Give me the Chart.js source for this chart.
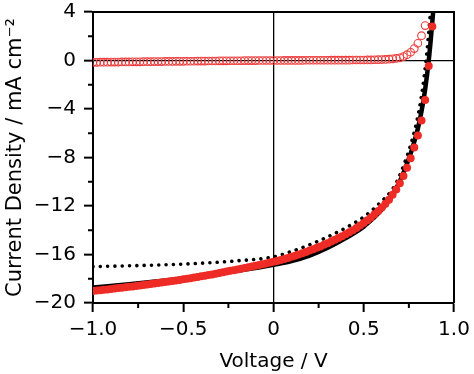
<!DOCTYPE html>
<html>
<head>
<meta charset="utf-8">
<script src="https://cdn.jsdelivr.net/npm/chart.js@4.4.0/dist/chart.umd.min.js"></script>
<style>
  html, body { margin: 0; padding: 0; background: #fff; }
  #wrap { width: 474px; height: 374px; }
</style>
</head>
<body>
<div id="wrap"><canvas id="jvChart"></canvas></div>
<script>
// voltage sweep shared by the two marker series (V)
const sweepV = [
  -1.00, -0.98, -0.96, -0.94, -0.92, -0.90, -0.88, -0.86, -0.84, -0.82,
  -0.80, -0.78, -0.76, -0.74, -0.72, -0.70, -0.68, -0.66, -0.64, -0.62,
  -0.60, -0.58, -0.56, -0.54, -0.52, -0.50, -0.48, -0.46, -0.44, -0.42,
  -0.40, -0.38, -0.36, -0.34, -0.32, -0.30, -0.28, -0.26, -0.24, -0.22,
  -0.20, -0.18, -0.16, -0.14, -0.12, -0.10, -0.08, -0.06, -0.04, -0.02,
  0.00, 0.02, 0.04, 0.06, 0.08, 0.10, 0.12, 0.14, 0.16, 0.18,
  0.20, 0.22, 0.24, 0.26, 0.28, 0.30, 0.32, 0.34, 0.36, 0.38,
  0.40, 0.42, 0.44, 0.46, 0.48, 0.50, 0.52, 0.54, 0.56, 0.58,
  0.60, 0.62, 0.64, 0.66, 0.68, 0.70, 0.72, 0.74, 0.76, 0.78,
  0.80, 0.82, 0.84, 0.86, 0.88
];

// red filled circles, under light (mA cm-2)
const lightJ = [
  -19.00, -18.97, -18.94, -18.91, -18.88, -18.84, -18.81, -18.77, -18.74, -18.70,
  -18.67, -18.63, -18.59, -18.55, -18.51, -18.47, -18.43, -18.39, -18.35, -18.31,
  -18.27, -18.23, -18.19, -18.14, -18.10, -18.05, -18.00, -17.95, -17.90, -17.85,
  -17.80, -17.75, -17.69, -17.64, -17.58, -17.53, -17.47, -17.41, -17.35, -17.29,
  -17.23, -17.17, -17.11, -17.05, -16.99, -16.93, -16.87, -16.80, -16.74, -16.67,
  -16.60, -16.53, -16.45, -16.37, -16.28, -16.19, -16.10, -16.00, -15.90, -15.79,
  -15.68, -15.57, -15.45, -15.33, -15.20, -15.07, -14.93, -14.79, -14.64, -14.49,
  -14.33, -14.16, -13.99, -13.81, -13.61, -13.40, -13.18, -12.94, -12.69, -12.42,
  -12.13, -11.82, -11.48, -11.08, -10.64, -10.12, -9.52, -8.84, -8.06, -7.18,
  -6.18, -4.95, -3.25, -0.45, 2.80
];

// red open circles, dark current (mA cm-2), up to 0.84 V
const darkJ = [
  -0.15, -0.15, -0.14, -0.14, -0.14, -0.13, -0.13, -0.13, -0.12, -0.12,
  -0.12, -0.11, -0.11, -0.11, -0.10, -0.10, -0.10, -0.09, -0.09, -0.09,
  -0.08, -0.08, -0.08, -0.07, -0.07, -0.07, -0.06, -0.06, -0.06, -0.05,
  -0.05, -0.05, -0.04, -0.04, -0.04, -0.03, -0.03, -0.03, -0.02, -0.02,
  -0.02, -0.02, -0.01, -0.01, -0.01, -0.01, 0.00, 0.00, 0.00, 0.00,
  0.00, 0.00, 0.00, 0.01, 0.01, 0.01, 0.01, 0.01, 0.01, 0.02,
  0.02, 0.02, 0.02, 0.02, 0.02, 0.02, 0.03, 0.03, 0.03, 0.03,
  0.03, 0.03, 0.04, 0.04, 0.04, 0.04, 0.05, 0.05, 0.06, 0.07,
  0.08, 0.09, 0.11, 0.14, 0.17, 0.22, 0.32, 0.48, 0.68, 0.98,
  1.42, 2.05, 2.88
];

// black solid curve
const solidV = [-1.00, -0.80, -0.60, -0.40, -0.20, 0.00, 0.10, 0.20, 0.30, 0.40, 0.50, 0.55,
  0.60, 0.65, 0.70, 0.74, 0.77, 0.80, 0.82, 0.84, 0.86, 0.87, 0.88, 0.89];
const solidJ = [-18.72, -18.45, -18.15, -17.80, -17.35, -16.85, -16.55, -16.10, -15.45, -14.65, -13.70, -13.05,
  -12.30, -11.30, -9.95, -8.50, -7.20, -5.60, -4.20, -2.40, 0.00, 1.50, 3.20, 5.00];

// black dotted curve
const dottedV = [-1.00, -0.80, -0.60, -0.40, -0.20, 0.00, 0.10, 0.20, 0.30, 0.40, 0.50, 0.60,
  0.65, 0.685, 0.725, 0.755, 0.785, 0.805, 0.825, 0.845, 0.855, 0.865, 0.875];
const dottedJ = [-17.00, -16.93, -16.85, -16.72, -16.52, -16.20, -15.75, -15.20, -14.55, -13.80, -12.90, -11.60,
  -10.80, -9.95, -8.50, -7.20, -5.60, -4.20, -2.40, 0.00, 1.50, 3.20, 5.00];

// axis ticks
const xMajor = [-1, -0.5, 0, 0.5, 1];
const xMinor = [-0.75, -0.25, 0.25, 0.75];
const yMajor = [4, 0, -4, -8, -12, -16, -20];
const yMinor = [2, -2, -6, -10, -14, -18];

const toPoints = (xs, ys) => ys.map((y, i) => ({ x: xs[i], y: y }));
const minus = v => (v < 0 ? '\u2212' : '');

const fonte = { family: "'DejaVu Sans', sans-serif", size: 20 };

// frame on top/right + short minor ticks
const moldura = {
  id: 'moldura',
  afterDraw(chart) {
    const { ctx, chartArea: a, scales } = chart;
    ctx.save();
    ctx.strokeStyle = '#000';
    ctx.lineWidth = 2;
    ctx.beginPath();
    ctx.moveTo(a.left, a.top);
    ctx.lineTo(a.right, a.top);
    ctx.lineTo(a.right, a.bottom);
    ctx.stroke();
    ctx.beginPath();
    xMinor.forEach(v => {
      const px = scales.x.getPixelForValue(v);
      ctx.moveTo(px, a.bottom);
      ctx.lineTo(px, a.bottom + 5);
    });
    yMinor.forEach(v => {
      const py = scales.y.getPixelForValue(v);
      ctx.moveTo(a.left - 5, py);
      ctx.lineTo(a.left, py);
    });
    ctx.stroke();
    ctx.restore();
  }
};

const gradeZero = ctx => (ctx.tick && ctx.tick.value === 0 ? '#000' : 'rgba(0,0,0,0)');

new Chart(document.getElementById('jvChart'), {
  type: 'scatter',
  data: {
    datasets: [
      {
        data: toPoints(sweepV, lightJ),
        backgroundColor: '#ee2b25',
        borderColor: '#ee2b25',
        pointRadius: 4,
        pointBorderWidth: 0,
        showLine: false,
        clip: 0,
        order: 0
      },
      {
        data: toPoints(sweepV, darkJ),
        backgroundColor: 'rgba(0,0,0,0)',
        borderColor: '#ee3b3b',
        pointRadius: 3.8,
        pointBorderWidth: 1.1,
        showLine: false,
        clip: 0,
        order: 1
      },
      {
        data: toPoints(dottedV, dottedJ),
        borderColor: '#000',
        borderWidth: 3.6,
        borderDash: [0.01, 7.3],
        borderCapStyle: 'round',
        pointRadius: 0,
        showLine: true,
        cubicInterpolationMode: 'monotone',
        clip: 0,
        order: 2
      },
      {
        data: toPoints(solidV, solidJ),
        borderColor: '#000',
        borderWidth: 4.5,
        pointRadius: 0,
        showLine: true,
        cubicInterpolationMode: 'monotone',
        clip: 0,
        order: 3
      }
    ]
  },
  options: {
    responsive: true,
    maintainAspectRatio: false,
    animation: false,
    layout: { padding: { left: 0, top: 12, right: 20, bottom: 0 } },
    plugins: {
      legend: { display: false },
      tooltip: { enabled: false }
    },
    scales: {
      x: {
        type: 'linear',
        min: -1,
        max: 1,
        afterFit: s => { s.height = 71; s.paddingLeft = 0; s.paddingRight = 0; },
        afterBuildTicks: s => { s.ticks = xMajor.map(v => ({ value: v })); },
        border: { display: true, color: '#000', width: 2 },
        grid: { color: gradeZero, lineWidth: 1.3, tickColor: '#000', tickWidth: 2, tickLength: 9 },
        ticks: {
          color: '#000',
          font: fonte,
          padding: 6,
          maxRotation: 0,
          callback: v => (v === 0 ? '0' : minus(v) + Math.abs(v).toFixed(1))
        },
        title: { display: true, text: 'Voltage / V', color: '#000', font: fonte, padding: { top: 0, bottom: 0 } }
      },
      y: {
        type: 'linear',
        min: -20,
        max: 4,
        afterFit: s => { s.width = 93; s.paddingTop = 0; s.paddingBottom = 0; },
        afterBuildTicks: s => { s.ticks = yMajor.map(v => ({ value: v })); },
        border: { display: true, color: '#000', width: 2 },
        grid: { color: gradeZero, lineWidth: 1.3, tickColor: '#000', tickWidth: 2, tickLength: 9 },
        ticks: {
          color: '#000',
          font: fonte,
          padding: 8,
          callback: v => minus(v) + Math.abs(v)
        },
        title: {
          display: true,
          text: 'Current Density / mA cm\u207B\u00B2',
          color: '#000',
          font: { family: "'DejaVu Sans', sans-serif", size: 21 },
          padding: { top: 3, bottom: 0 }
        }
      }
    }
  },
  plugins: [moldura]
});
</script>
</body>
</html>
